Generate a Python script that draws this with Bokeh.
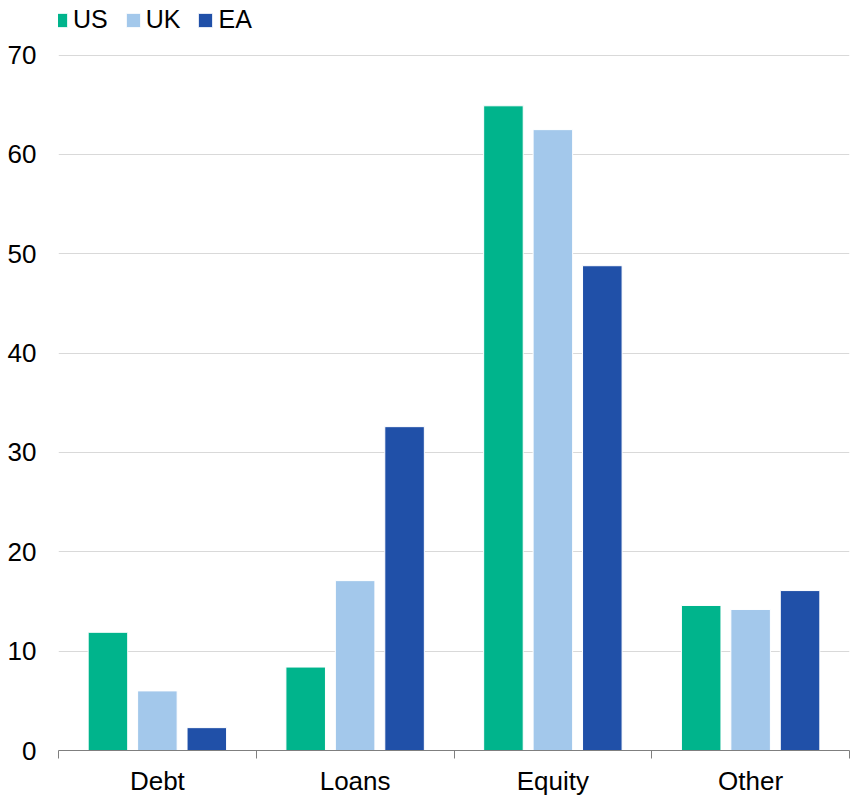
import numpy as np
from bokeh.plotting import figure
from bokeh.models import ColumnDataSource, FixedTicker, Legend, LegendItem, Range1d
from bokeh.embed import file_html
from bokeh.resources import INLINE

categories = ["Debt", "Loans", "Equity", "Other"]
series = ["US", "UK", "EA"]
us = [11.9, 8.4, 64.9, 14.6]
uk = [6.0, 17.1, 62.5, 14.2]
ea = [2.3, 32.6, 48.8, 16.1]
colors = ["#00B48C", "#A3C8EB", "#2050A8"]
y_ticks = [0, 10, 20, 30, 40, 50, 60, 70]

FONT = "Liberation Sans"

# frame spans the full top so the legend sits inside it; gridline 70 lands near y=55
p = figure(width=851, height=798, output_backend="svg", toolbar_location=None,
           x_range=Range1d(0, len(categories)), y_range=Range1d(0, 75.5),
           min_border_left=58, min_border_right=2, min_border_top=0, min_border_bottom=47)
p.outline_line_color = None
p.background_fill_color = "white"

centers = np.arange(len(categories)) + 0.5
offsets = [-0.25, 0.0, 0.25]
renderers = []
for name, vals, col, off in zip(series, [us, uk, ea], colors, offsets):
    src = ColumnDataSource(dict(x=centers + off, top=vals))
    r = p.vbar(x="x", top="top", width=0.2, source=src, fill_color=col,
               line_color="white", line_width=1)
    renderers.append((name, r))

legend = Legend(items=[LegendItem(label=n, renderers=[r]) for n, r in renderers],
                orientation="horizontal", location=(-7, 716),
                glyph_width=18, glyph_height=18, label_standoff=4, spacing=16,
                padding=0, margin=0, border_line_color=None, background_fill_alpha=0,
                label_text_font=FONT, label_text_font_size="25px", label_text_color="black")
p.add_layout(legend, "center")

# x axis
p.xaxis.ticker = FixedTicker(ticks=list(centers), minor_ticks=list(np.arange(len(categories) + 1)))
p.xaxis.major_label_overrides = {float(c): lab for c, lab in zip(centers, categories)}
p.xaxis.major_tick_out = 0
p.xaxis.major_tick_in = 0
p.xaxis.minor_tick_out = 8
p.xaxis.minor_tick_in = 0
p.xaxis.minor_tick_line_color = "#7F7F7F"
p.xaxis.axis_line_color = "#7F7F7F"
p.xaxis.major_label_standoff = 7
p.xaxis.major_label_text_font = FONT
p.xaxis.major_label_text_font_size = "26px"
p.xaxis.major_label_text_color = "black"
p.xgrid.grid_line_color = None

# y axis
p.yaxis.ticker = FixedTicker(ticks=y_ticks)
p.yaxis.axis_line_color = None
p.yaxis.major_tick_line_color = None
p.yaxis.minor_tick_line_color = None
p.yaxis.major_tick_out = 0
p.yaxis.major_label_standoff = 22
p.yaxis.major_label_text_font = FONT
p.yaxis.major_label_text_font_size = "26px"
p.yaxis.major_label_text_color = "black"
p.ygrid.grid_line_color = "#D9D9D9"
p.ygrid.grid_line_width = 1

open("out.html", "w").write(file_html(p, INLINE))
